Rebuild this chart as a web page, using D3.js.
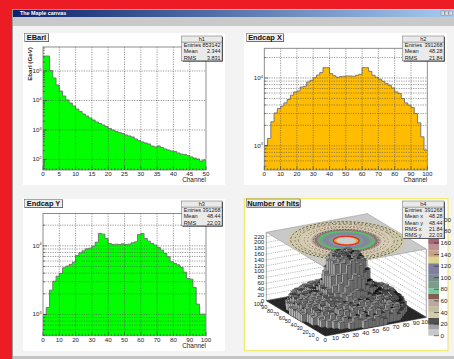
<!DOCTYPE html>
<html>
<head>
<meta charset="utf-8">
<title>The Maple canvas</title>
<script src="https://cdn.jsdelivr.net/npm/d3@7/dist/d3.min.js"></script>
<style>
  html, body { margin: 0; padding: 0; background: #ed1c24; overflow: hidden; }
  svg { display: block; font-family: "Liberation Sans", Arial, sans-serif; }
</style>
</head>
<body>
<svg id="c" width="454" height="359"></svg>
<script>
// bin contents
const ebarl = [322000, 322000, 104000, 58000, 33500, 21000, 14200, 10400, 8200, 6500,
  5150, 4240, 3480, 2980, 2550, 2180, 1870, 1660, 1480, 1310,
  1125, 1000, 890, 822, 760, 676, 626, 579, 495, 441,
  392, 362, 335, 287, 265, 287, 255, 227, 210, 194,
  187, 166, 153, 148, 137, 122, 112, 104, 89, 96];
const endcapX = [1010, 1285, 2255, 3050, 3550, 3840, 4290, 4810, 5570, 6230,
  6440, 7370, 7550, 8730, 9250, 10100, 11060, 12000, 14200, 14200,
  11600, 10800, 10230, 10490, 10600, 10700, 10700, 10600, 10970, 11330,
  14200, 14200, 12560, 10970, 10230, 9570, 8930, 8270, 7730, 7130,
  6230, 5900, 4980, 4290, 3970, 3670, 2990, 2180, 1355, 865];
const endcapY = [1000, 1265, 2260, 3050, 3610, 3950, 4790, 5060, 5350, 5780,
  7230, 7910, 8460, 9040, 9250, 9890, 11300, 15130, 14800, 12800,
  10800, 10450, 10570, 10450, 10690, 10450, 10570, 11060, 11430, 14620,
  15130, 12800, 11690, 10800, 10230, 9470, 8650, 7730, 6920, 5850,
  5530, 5290, 4830, 4140, 3340, 3270, 2470, 1415, 1010, 1010];

// statistics boxes
const stats1 = [['Entries', '853142'], ['Mean', '2.344'], ['RMS', '3.831']];
const stats2 = [['Entries', '391268'], ['Mean', '48.28'], ['RMS', '21.84']];
const stats3 = [['Entries', '391268'], ['Mean', '48.44'], ['RMS', '22.03']];
const stats4 = [['Entries', '391268'], ['Mean x', '48.28'], ['Mean y', '48.44'], ['RMS x', '21.84'], ['RMS y', '22.03']];

// number of hits: heights estimated on a coarse grid, row = y, column = x
const hits = [
  [0,0,0,0,0,0,0,0,0,0,26,31,24,35,28,22,0,0,0,0,0,0,0,0,0,0],
  [0,0,0,0,0,0,0,22,38,30,46,35,52,33,48,37,44,29,41,24,0,0,0,0,0,0],
  [0,0,0,0,0,24,40,33,50,37,55,42,36,58,40,47,34,53,39,45,27,0,0,0,0,0],
  [0,0,0,0,26,41,34,52,38,60,44,35,56,43,62,36,49,41,57,33,46,25,0,0,0,0],
  [0,0,0,25,44,32,55,39,48,63,37,52,45,66,41,58,35,50,62,38,47,31,23,0,0,0],
  [0,0,24,38,49,35,57,43,61,46,58,52,64,58,56,44,59,40,54,36,50,42,33,22,0,0],
  [0,0,30,47,36,53,41,62,48,60,56,68,64,70,60,62,51,65,43,56,38,49,35,26,0,0],
  [0,27,42,33,55,40,52,49,60,58,78,88,94,90,86,74,66,52,60,45,53,37,46,31,24,0],
  [0,31,46,38,52,44,58,62,70,84,106,126,142,133,124,100,90,64,60,48,57,41,50,34,28,0],
  [0,29,50,36,58,42,60,70,84,114,144,174,186,176,166,140,106,86,64,55,61,43,54,37,30,0],
  [26,44,35,54,46,60,68,78,104,140,178,190,186,196,184,178,140,102,78,62,60,47,52,40,33,24],
  [28,38,52,43,60,49,72,90,134,172,188,198,190,184,197,186,168,136,88,70,60,50,44,55,36,27],
  [30,48,37,56,45,68,66,86,130,180,192,186,194,182,190,195,176,128,84,68,70,46,58,39,42,25],
  [24,41,53,39,62,50,71,84,126,176,186,196,184,192,188,190,180,132,88,66,59,52,43,56,34,29],
  [27,46,34,58,44,66,70,92,136,170,194,188,196,182,198,184,166,134,90,72,65,44,54,37,41,23],
  [25,36,51,42,57,62,66,82,102,144,180,186,192,178,190,182,138,104,76,66,55,49,40,52,30,26],
  [0,33,45,40,55,47,60,68,86,110,140,170,182,172,176,136,112,84,70,53,60,42,50,35,28,0],
  [0,28,49,35,53,41,57,64,68,86,104,124,140,130,126,98,86,66,58,50,54,39,47,32,26,0],
  [0,25,40,46,34,57,45,60,56,68,78,88,96,86,90,76,64,62,47,56,38,48,33,29,22,0],
  [0,0,29,43,38,52,42,60,50,58,58,62,62,66,55,64,46,58,41,50,37,44,30,24,0,0],
  [0,0,23,40,33,50,39,56,47,62,49,66,53,60,45,55,38,52,35,47,34,28,22,0,0,0],
  [0,0,0,24,42,31,51,38,55,44,59,36,54,47,60,39,53,33,48,37,44,30,23,0,0,0],
  [0,0,0,0,25,39,33,48,37,56,42,52,35,57,41,49,36,51,34,43,32,24,0,0,0,0],
  [0,0,0,0,0,23,37,31,47,35,51,40,33,53,38,44,32,46,36,41,26,0,0,0,0,0],
  [0,0,0,0,0,0,0,21,35,28,43,33,47,30,45,34,40,27,38,22,0,0,0,0,0,0],
  [0,0,0,0,0,0,0,0,0,0,24,29,23,32,26,21,0,0,0,0,0,0,0,0,0,0],
];

// colour palette of the 2D histogram: band lower edge in counts, colour
const paletteEdges = [0, 11, 19, 31, 41, 51, 63, 72, 82, 94, 105, 125, 136, 147, 157, 167, 180, 215];
const paletteColors = ['#c8c8c8', '#a2a2a2', '#505050', '#d2cdaa', '#c4bca2', '#bca8a2', '#80604f', '#7cc8a2',
  '#7c9c8a', '#7a8e8e', '#80809e', '#dcd48e', '#c8a27e', '#ba9292', '#a66474', '#a06070', '#985060'];
const paletteTicks = d3.range(0, 201, 20);

// contour rings on the lid: channel radius, colour
const lidRadii = [50.5, 39, 30, 27, 25, 20, 15, 12.5, 10.5, 8.5];
const lidColors = ['#cfc8aa', '#d6ceb4', '#b9a8a0', '#8a7466', '#7f9a8a', '#7f8a98', '#8e8ea8', '#58b070', '#f0a030', '#cccccc'];
const speckleRadii = [47.5, 44, 41, 36, 33, 28, 23, 11];
const speckleColors = ['#555555', '#444444', '#8a8070', '#a08070', '#8a6a60', '#6a5048', '#30e050', '#ee2020'];
const speckleDashes = ['2.3 1.7', '1.1 2.6', '3.1 2.2', '1.6 1.3', '1.6 2.1', '1.6 1.3', '2 1', null];

const svg = d3.select('#c');
const FONT = 6.2;

// ---- window chrome ----
const defs = svg.append('defs');
const grad = defs.append('linearGradient').attr('id', 'titlebar');
grad.append('stop').attr('offset', '0').attr('stop-color', '#0a246a');
grad.append('stop').attr('offset', '1').attr('stop-color', '#a6caf0');

svg.append('rect').attr('x', 12).attr('y', 9).attr('width', 442).attr('height', 350).attr('fill', '#f3f3f3');
svg.append('rect').attr('x', 12).attr('y', 9).attr('width', 1).attr('height', 350).attr('fill', '#9a9a9a');
svg.append('rect').attr('x', 13).attr('y', 9.5).attr('width', 441).attr('height', 7.5).attr('fill', 'url(#titlebar)');
svg.append('rect').attr('x', 13).attr('y', 17).attr('width', 441).attr('height', 9).attr('fill', '#c9c9c9');
svg.append('rect').attr('x', 13).attr('y', 356).attr('width', 441).attr('height', 3).attr('fill', '#c4c4c4');
svg.append('text').attr('x', 20).attr('y', 15.4).attr('fill', '#fff')
  .style('font-size', '5.4px').style('font-weight', 'bold').text('The Maple canvas');
[441, 445, 449].forEach(x => {
  svg.append('rect').attr('x', x).attr('y', 11).attr('width', 3.4).attr('height', 4.6)
    .attr('fill', '#d8d8d8').attr('stroke', '#777').attr('stroke-width', 0.4);
});

// ---- shared pieces ----
const addPad = (x0, y0, x1, y1, border) => {
  svg.append('rect').attr('x', x0).attr('y', y0).attr('width', x1 - x0).attr('height', y1 - y0)
    .attr('fill', '#fff').attr('stroke', border || 'none').attr('stroke-width', border ? 1.2 : 0);
};

const addTitle = (label, x0, y0, x1) => {
  svg.append('rect').attr('x', x0 + 0.5).attr('y', y0 + 0.5).attr('width', x1 - x0).attr('height', 8)
    .attr('fill', '#333');
  svg.append('rect').attr('x', x0).attr('y', y0).attr('width', x1 - x0).attr('height', 8)
    .attr('fill', '#eeeeee').attr('stroke', '#555').attr('stroke-width', 0.5);
  svg.append('text').attr('x', (x0 + x1) / 2).attr('y', y0 + 6.6).attr('text-anchor', 'middle')
    .attr('fill', '#111').style('font-size', '7.4px').style('font-weight', 'bold').text(label);
};

const addStats = (name, rows, x0, y0, x1) => {
  const rowH = 6.2;
  const h = rowH * (rows.length + 1);
  svg.append('rect').attr('x', x0 + 0.8).attr('y', y0 + 0.8).attr('width', x1 - x0).attr('height', h).attr('fill', '#222');
  svg.append('rect').attr('x', x0).attr('y', y0).attr('width', x1 - x0).attr('height', h)
    .attr('fill', '#eaeaea').attr('stroke', '#666').attr('stroke-width', 0.5);
  svg.append('line').attr('x1', x0).attr('x2', x1).attr('y1', y0 + rowH).attr('y2', y0 + rowH)
    .attr('stroke', '#555').attr('stroke-width', 0.5);
  svg.append('text').attr('x', (x0 + x1) / 2).attr('y', y0 + 5).attr('text-anchor', 'middle')
    .attr('fill', '#222').style('font-size', '5.6px').text(name);
  rows.forEach((r, i) => {
    const y = y0 + rowH * (i + 1) + 5;
    svg.append('text').attr('x', x0 + 2).attr('y', y).attr('fill', '#222').style('font-size', '5.6px').text(r[0]);
    svg.append('text').attr('x', x1 - 1.5).attr('y', y).attr('text-anchor', 'end').attr('fill', '#222')
      .style('font-size', '5.4px').text(r[1]);
  });
};

// ---- log y histograms ----
const drawHist = (opts) => {
  const { values, xMax, xStep, frame, yDomain, fill, grids, decades } = opts;
  const x = d3.scaleLinear().domain([0, xMax]).range([frame.x0, frame.x1]);
  const y = d3.scaleLog().domain(yDomain).range([frame.y1, frame.y0]);
  const g = svg.append('g');
  const binW = xMax / values.length;
  const pts = values.map((v, i) => [i * binW, v]).concat([[xMax, values[values.length - 1]]]);

  const area = d3.area().curve(d3.curveStepAfter)
    .x(d => x(d[0])).y0(frame.y1).y1(d => y(d[1]));
  g.append('path').attr('d', area(pts)).attr('fill', fill);
  const line = d3.line().curve(d3.curveStepAfter).x(d => x(d[0])).y(d => y(d[1]));
  g.append('path').attr('d', line(pts)).attr('fill', 'none').attr('stroke', '#707070').attr('stroke-width', 0.9);

  // grid sits above the fill, the way ROOT paints it
  d3.range(xStep, xMax, xStep).forEach(v => {
    g.append('line').attr('x1', x(v)).attr('x2', x(v)).attr('y1', frame.y0).attr('y2', frame.y1)
      .attr('stroke', '#555').attr('stroke-width', 0.6).attr('stroke-dasharray', '1.2 1.2');
  });
  grids.forEach(v => {
    g.append('line').attr('x1', frame.x0).attr('x2', frame.x1).attr('y1', y(v)).attr('y2', y(v))
      .attr('stroke', '#555').attr('stroke-width', 0.6).attr('stroke-dasharray', '1.2 1.2');
  });

  g.append('rect').attr('x', frame.x0).attr('y', frame.y0)
    .attr('width', frame.x1 - frame.x0).attr('height', frame.y1 - frame.y0)
    .attr('fill', 'none').attr('stroke', '#808080').attr('stroke-width', 0.9);

  // x axis: major and minor ticks point into the frame
  const minorStep = xStep / 5;
  d3.range(0, xMax + minorStep / 2, minorStep).forEach(v => {
    const major = Math.abs(v / xStep - Math.round(v / xStep)) < 1e-6;
    g.append('line').attr('x1', x(v)).attr('x2', x(v)).attr('y1', frame.y1).attr('y2', frame.y1 - (major ? 3.6 : 1.8))
      .attr('stroke', '#333').attr('stroke-width', 0.6);
  });
  d3.range(0, xMax + 1, xStep).forEach(v => {
    g.append('text').attr('x', x(v)).attr('y', frame.y1 + 5.8).attr('text-anchor', 'middle')
      .attr('fill', '#222').style('font-size', FONT + 'px').text(v);
  });
  g.append('text').attr('x', frame.x1).attr('y', frame.y1 + 11.8).attr('text-anchor', 'end')
    .attr('fill', '#222').style('font-size', '6.4px').text('Channel');

  // log ticks on y, all multiples of each decade inside the range
  const lo = Math.floor(Math.log10(yDomain[0]));
  const hi = Math.ceil(Math.log10(yDomain[1]));
  d3.range(lo, hi).forEach(e => {
    d3.range(1, 10).forEach(m => {
      const v = m * Math.pow(10, e);
      if (v < yDomain[0] || v > yDomain[1]) return;
      g.append('line').attr('x1', frame.x0).attr('x2', frame.x0 + (m === 1 ? 4 : 2)).attr('y1', y(v)).attr('y2', y(v))
        .attr('stroke', '#333').attr('stroke-width', 0.6);
    });
  });
  decades.forEach(e => {
    const t = g.append('text').attr('x', frame.x0 - 1.5).attr('y', y(Math.pow(10, e)) + 2)
      .attr('text-anchor', 'end').attr('fill', '#222').style('font-size', FONT + 'px');
    t.append('tspan').text('10');
    t.append('tspan').attr('dy', -2.4).style('font-size', '3.8px').text(e);
  });
};

const decadeGrid = [1e2, 1e3, 1e4, 1e5];
const fineGrid = [600, 700, 800, 900, 1000, 2000, 3000, 4000, 5000, 6000, 7000, 8000, 9000, 10000, 20000];

// pad 1
addPad(23, 33, 225, 185);
drawHist({ values: ebarl, xMax: 50, xStep: 5, fill: '#00ff00',
  frame: { x0: 43, x1: 206, y0: 47, y1: 170 }, yDomain: [44, 650000], grids: decadeGrid, decades: [2, 3, 4, 5] });
svg.append('text').attr('transform', 'translate(31.5,64) rotate(-90)').attr('text-anchor', 'middle')
  .attr('fill', '#222').style('font-size', '6.2px').style('font-weight', 'bold').text('Ebarl (GeV)');
addTitle('EBarl', 24.5, 33.5, 48.5);
addStats('h1', stats1, 181.7, 36, 222);

// pad 2
addPad(244, 33, 447, 185);
drawHist({ values: endcapX, xMax: 100, xStep: 10, fill: '#ffbc00',
  frame: { x0: 264.3, x1: 427.3, y0: 48.3, y1: 170 }, yDomain: [440, 27400], grids: fineGrid, decades: [3, 4] });
addTitle('Endcap X', 246.5, 33.5, 283.5);
addStats('h2', stats2, 402.7, 36, 444);

// pad 3
addPad(23, 199, 225, 351);
drawHist({ values: endcapY, xMax: 100, xStep: 10, fill: '#00ff00',
  frame: { x0: 43, x1: 206, y0: 213.5, y1: 335.7 }, yDomain: [490, 29600], grids: fineGrid, decades: [3, 4] });
addTitle('Endcap Y', 24.5, 199.5, 62.5);
addStats('h3', stats3, 181.7, 201, 222);

// ---- pad 4: lego bars with contour lid ----
addPad(244.4, 198.6, 448, 350.6, '#f0ea6e');

const axisX = d3.scaleLinear().domain([0, 100]).range([[0, 0], [101, -18.7]]);
const axisY = d3.scaleLinear().domain([0, 100]).range([[0, 0], [-59, -35.3]]);
const axisZ = d3.scaleLinear().domain([0, 220]).range([0, -64]);
const origin = [325.3, 336];
const project = (x, y, z) => {
  const a = axisX(x), b = axisY(y);
  return [origin[0] + a[0] + b[0], origin[1] + a[1] + b[1] + axisZ(z)];
};
const zLid = 235;
const poly = (pts) => 'M' + pts.map(p => p[0].toFixed(2) + ',' + p[1].toFixed(2)).join('L') + 'Z';
const seg = (a, b) => 'M' + a[0].toFixed(2) + ',' + a[1].toFixed(2) + 'L' + b[0].toFixed(2) + ',' + b[1].toFixed(2);
const pad4 = svg.append('g');

// floor hatch from the zero-height bins
const floor = [project(0, 0, 0), project(100, 0, 0), project(100, 100, 0), project(0, 100, 0)];
pad4.append('path').attr('d', poly(floor)).attr('fill', '#555');
d3.range(0, 101, 2).forEach(v => {
  pad4.append('path').attr('d', seg(project(v, 0, 0), project(v, 100, 0)) + seg(project(0, v, 0), project(100, v, 0)))
    .attr('stroke', '#111').attr('stroke-width', 0.5);
});

// back walls and their z grid
const zTicks = d3.range(0, 221, 20);
zTicks.forEach(z => {
  const l = project(0, 100, z), m = project(100, 100, z), r = project(100, 0, z);
  pad4.append('path').attr('d', d3.line()([l, m, r])).attr('fill', 'none')
    .attr('stroke', '#777').attr('stroke-width', 0.5).attr('stroke-dasharray', '1.2 1');
  pad4.append('text').attr('x', l[0] - 2).attr('y', l[1] + 1.8).attr('text-anchor', 'end')
    .attr('fill', '#222').style('font-size', FONT + 'px').text(z);
});
[[0, 100], [100, 100], [100, 0]].forEach(c => {
  pad4.append('path').attr('d', seg(project(c[0], c[1], 0), project(c[0], c[1], zLid)))
    .attr('stroke', '#666').attr('stroke-width', 0.6);
});

// lid
const circle = (r) => d3.range(0, 360, 6).map(t => {
  const a = t * Math.PI / 180;
  return project(50 + r * Math.cos(a), 50 + r * Math.sin(a), zLid);
});
pad4.append('path').attr('d', poly([project(0, 0, zLid), project(100, 0, zLid), project(100, 100, zLid), project(0, 100, zLid)]))
  .attr('fill', '#c9c9c9').attr('stroke', '#888').attr('stroke-width', 0.5);
lidRadii.forEach((r, i) => {
  pad4.append('path').attr('d', poly(circle(r))).attr('fill', lidColors[i]);
});
speckleRadii.forEach((r, i) => {
  pad4.append('path').attr('d', poly(circle(r))).attr('fill', 'none').attr('stroke', speckleColors[i])
    .attr('stroke-width', i >= 6 ? 1.2 : 0.9).attr('stroke-dasharray', speckleDashes[i]);
});

// bars, painted back to front; the thin strokes stand in for the 1-channel mesh
const cellW = 100 / hits.length;
const bars = [];
hits.forEach((row, j) => row.forEach((z, i) => { if (z > 0) bars.push({ i, j, z }); }));
bars.sort((a, b) => (b.i + b.j) - (a.i + a.j));
const topShade = d3.scaleLinear().domain([-25, 0, 25]).range(['#181818', '#6a6a6a', '#ffffff']).clamp(true);
const meshSteps = [0.33, 0.67];
bars.forEach(b => {
  const x0 = b.i * cellW, x1 = x0 + cellW, y0 = b.j * cellW, y1 = y0 + cellW;
  const left = b.i > 0 ? hits[b.j][b.i - 1] : 0;
  const front = b.j > 0 ? hits[b.j - 1][b.i] : 0;
  const lerp = (a, c, t) => a + (c - a) * t;
  pad4.append('path').attr('d', poly([project(x0, y0, 0), project(x0, y1, 0), project(x0, y1, b.z), project(x0, y0, b.z)]))
    .attr('fill', left === 0 ? '#f4f4f4' : '#dcdcdc').attr('stroke', '#000').attr('stroke-width', 0.25);
  pad4.append('path').attr('d', poly([project(x0, y0, 0), project(x1, y0, 0), project(x1, y0, b.z), project(x0, y0, b.z)]))
    .attr('fill', '#808080').attr('stroke', '#000').attr('stroke-width', 0.25);
  pad4.append('path').attr('d', poly([project(x0, y0, b.z), project(x1, y0, b.z), project(x1, y1, b.z), project(x0, y1, b.z)]))
    .attr('fill', topShade((b.z - left) + (b.z - front) - 8)).attr('stroke', '#000').attr('stroke-width', 0.25);
  let mesh = '';
  meshSteps.forEach(t => {
    const mx = lerp(x0, x1, t), my = lerp(y0, y1, t);
    mesh += seg(project(mx, y0, b.z), project(mx, y1, b.z)) + seg(project(x0, my, b.z), project(x1, my, b.z));
    mesh += seg(project(x0, my, 0), project(x0, my, b.z)) + seg(project(mx, y0, 0), project(mx, y0, b.z));
  });
  pad4.append('path').attr('d', mesh).attr('stroke', '#000').attr('stroke-width', 0.22);
});

// x and y axis numbers along the front edges
const axisTicks = d3.range(0, 101, 10);
axisTicks.forEach(v => {
  const p = project(v, 0, 0);
  pad4.append('text').attr('x', p[0]).attr('y', p[1] + 6.2).attr('text-anchor', 'middle')
    .attr('fill', '#222').style('font-size', FONT + 'px').text(v);
  const q = project(0, v, 0);
  pad4.append('text').attr('x', q[0] - 8).attr('y', q[1] + 5).attr('text-anchor', 'middle')
    .attr('fill', '#222').style('font-size', '5.6px').text(v);
});

// palette
const palY = d3.scaleLinear().domain([0, 200]).range([335.7, 219.7]);
paletteColors.forEach((c, i) => {
  pad4.append('rect').attr('x', 428.3).attr('width', 10.7)
    .attr('y', palY(paletteEdges[i + 1])).attr('height', palY(paletteEdges[i]) - palY(paletteEdges[i + 1]))
    .attr('fill', c);
});
paletteTicks.forEach(v => {
  pad4.append('line').attr('x1', 434).attr('x2', 439).attr('y1', palY(v)).attr('y2', palY(v))
    .attr('stroke', '#222').attr('stroke-width', 0.6);
  pad4.append('text').attr('x', 440.5).attr('y', palY(v) + 2).attr('fill', '#222')
    .style('font-size', FONT + 'px').text(v);
});

addTitle('Number of hits', 246.5, 199, 300);
addStats('h4', stats4, 402.7, 201, 444);
</script>
</body>
</html>
